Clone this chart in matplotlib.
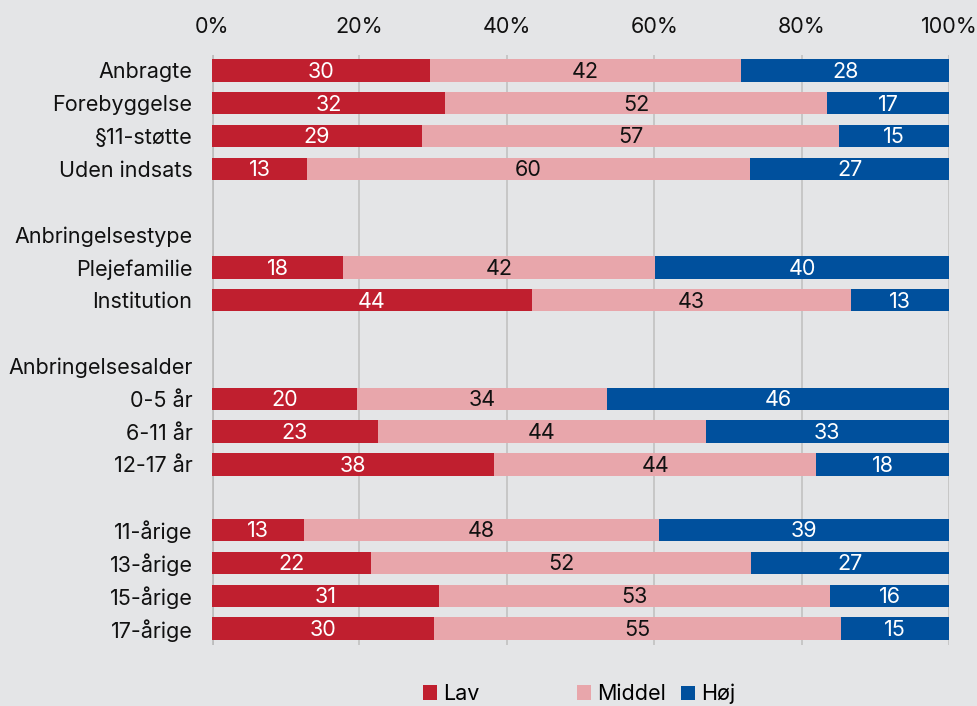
import numpy as np
import matplotlib
matplotlib.use('Agg')
import matplotlib.pyplot as plt
from matplotlib.patches import Patch

plt.rcParams['font.family'] = ['Inter', 'DejaVu Sans']

# rows top to bottom; '' = blank row, headers have no bar
categories = ["Anbragte", "Forebyggelse", "§11-støtte", "Uden indsats", "",
              "Anbringelsestype", "Plejefamilie", "Institution", "",
              "Anbringelsesalder", "0-5 år", "6-11 år", "12-17 år", "",
              "11-årige", "13-årige", "15-årige", "17-årige"]

lav    = [29.6, 31.6, 28.5, 12.9, None, None, 17.8, 43.4, None, None, 19.7, 22.5, 38.3, None, 12.5, 21.6, 30.8, 30.1]
middel = [42.2, 51.9, 56.6, 60.1, None, None, 42.3, 43.3, None, None, 33.9, 44.5, 43.7, None, 48.2, 51.5, 53.1, 55.2]
hoj    = [28.2, 16.5, 14.9, 27.0, None, None, 39.9, 13.3, None, None, 46.4, 33.0, 18.0, None, 39.3, 26.9, 16.1, 14.7]

lav_lbl    = [30, 32, 29, 13, None, None, 18, 44, None, None, 20, 23, 38, None, 13, 22, 31, 30]
middel_lbl = [42, 52, 57, 60, None, None, 42, 43, None, None, 34, 44, 44, None, 48, 52, 53, 55]
hoj_lbl    = [28, 17, 15, 27, None, None, 40, 13, None, None, 46, 33, 18, None, 39, 27, 16, 15]

series_names = ["Lav", "Middel", "Høj"]
colors = ["#c01f2f", "#e8a6ab", "#00509d"]
text_colors = ["white", "#111111", "white"]

fs = 15.5
bg = "#e4e5e7"
fig = plt.figure(figsize=(9.78, 7.06), dpi=100, facecolor=bg)
ax = fig.add_axes([212/978, 1-645/706, 737/978, 590/706], facecolor=bg)

y = np.arange(len(categories))
for i in range(len(categories)):
    if lav[i] is None:
        continue
    left = 0
    for vals, lbls, c, tc in zip([lav, middel, hoj], [lav_lbl, middel_lbl, hoj_lbl], colors, text_colors):
        w = vals[i]
        ax.barh(y[i], w, left=left, height=0.68, color=c, zorder=3)
        ax.text(left + w/2, y[i] + 0.04, str(lbls[i]), ha='center', va='center',
                color=tc, fontsize=fs, zorder=4)
        left += w

ax.set_xlim(0, 100)
ax.set_ylim(len(categories) - 0.5, -0.47)
ax.set_yticks(y)
ax.set_yticklabels(categories, fontsize=fs, color="#111111")
ax.set_xticks([0, 20, 40, 60, 80, 100])
ax.set_xticklabels([f"{v}%" for v in [0, 20, 40, 60, 80, 100]], fontsize=fs, color="#111111")
ax.xaxis.tick_top()
ax.tick_params(axis='both', length=0)
ax.tick_params(axis='x', pad=13)
ax.tick_params(axis='y', pad=14)
ax.grid(axis='x', color='#c4c4c4', linewidth=1.3, zorder=0)
ax.axvline(0, color='#b8b8b8', linewidth=2, zorder=1)
for s in ax.spines.values():
    s.set_visible(False)

# legend entries placed one by one (uneven spacing in the original)
leg_x = [423/978, 577/978, 681/978]
for name, c, lx in zip(series_names, colors, leg_x):
    leg = fig.legend([Patch(facecolor=c, edgecolor='none')], [name], loc='center left',
                     bbox_to_anchor=(lx, 1-694/706), frameon=False, fontsize=fs,
                     handlelength=0.65, handleheight=0.65, handletextpad=0.3,
                     borderpad=0, borderaxespad=0)

fig.savefig("out.png", dpi=100, facecolor=bg)
